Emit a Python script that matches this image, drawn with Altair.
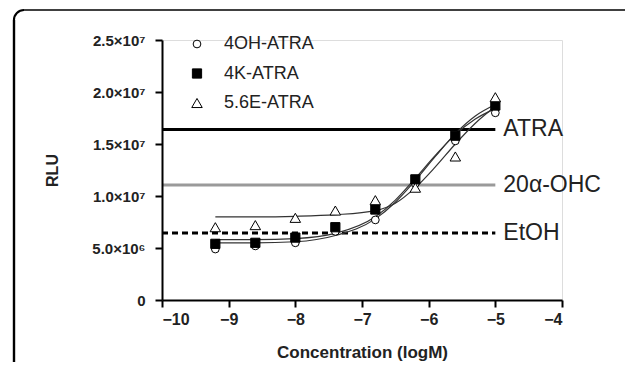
import altair as alt
import pandas as pd

# Data points
conc = [-9.2, -8.6, -8.0, -7.4, -6.8, -6.2, -5.6, -5.0]
oh_atra = [4.9e6, 5.2e6, 5.5e6, 6.6e6, 7.7e6, 11.2e6, 15.3e6, 18.0e6]
k_atra = [5.4e6, 5.5e6, 6.0e6, 7.0e6, 8.7e6, 11.6e6, 15.8e6, 18.7e6]
e_atra = [7.0e6, 7.2e6, 7.9e6, 8.6e6, 9.6e6, 10.8e6, 13.8e6, 19.5e6]

# Fitted curves
curve_x = [-9.2, -8.6, -8.0, -7.4, -6.8, -6.5, -6.2, -5.9, -5.6, -5.3, -5.0]
oh_curve = [5.5e6, 5.5e6, 5.6e6, 6.2e6, 7.8e6, 9.4e6, 11.5e6, 13.8e6, 16.0e6, 17.7e6, 18.8e6]
k_curve = [5.8e6, 5.8e6, 5.9e6, 6.4e6, 8.0e6, 9.6e6, 11.7e6, 13.9e6, 15.9e6, 17.4e6, 18.4e6]
e_curve = [8.0e6, 8.0e6, 8.05e6, 8.2e6, 8.6e6, 9.3e6, 10.8e6, 12.8e6, 15.0e6, 17.0e6, 18.6e6]

series = ["4OH-ATRA", "4K-ATRA", "5.6E-ATRA"]

# Reference lines
ref_names = ["ATRA", "20\u03b1-OHC", "EtOH"]
ref_values = [16.4e6, 11.05e6, 6.45e6]
ref_end = -5.0

y_ticks = [0, 5e6, 1e7, 1.5e7, 2e7, 2.5e7]
y_labels = ["0", "5.0\u00d710\u2076", "1.0\u00d710\u2077", "1.5\u00d710\u2077", "2.0\u00d710\u2077", "2.5\u00d710\u2077"]
x_ticks = [-10, -9, -8, -7, -6, -5, -4]

FONT = "Liberation Sans"

pts = pd.DataFrame(
    [{"x": c, "y": v, "s": series[0]} for c, v in zip(conc, oh_atra)]
    + [{"x": c, "y": v, "s": series[1]} for c, v in zip(conc, k_atra)]
    + [{"x": c, "y": v, "s": series[2]} for c, v in zip(conc, e_atra)]
)
curves = pd.DataFrame(
    [{"x": c, "y": v, "s": series[0]} for c, v in zip(curve_x, oh_curve)]
    + [{"x": c, "y": v, "s": series[1]} for c, v in zip(curve_x, k_curve)]
    + [{"x": c, "y": v, "s": series[2]} for c, v in zip(curve_x, e_curve)]
)
refs = pd.DataFrame({"name": ref_names, "y": ref_values, "x0": [-10] * 3, "x1": [ref_end] * 3})

label_expr = " : ".join(
    f"datum.value == {v} ? '{l}'" for v, l in zip(y_ticks, y_labels)
) + " : ''"

xs = alt.Scale(domain=[-10, -4], nice=False, zero=False)
ys = alt.Scale(domain=[0, 2.5e7], nice=False)

x_axis = alt.Axis(values=x_ticks, title="Concentration (logM)", grid=False,
                  domainColor="black", domainWidth=2, tickColor="black", tickWidth=2,
                  tickSize=7, labelFont=FONT, labelFontSize=16, labelFontWeight="bold",
                  labelColor="#222", labelPadding=4, titleFont=FONT, titleFontSize=17,
                  titleFontWeight="bold", titleColor="#222", titlePadding=17, format="d",
                  zindex=1)
y_axis = alt.Axis(values=y_ticks, labelExpr=label_expr, title="RLU", grid=False,
                  domainColor="black", domainWidth=2, tickColor="black", tickWidth=2,
                  tickSize=7, labelFont=FONT, labelFontSize=15, labelFontWeight="bold",
                  labelColor="#222", labelPadding=10, titleFont=FONT, titleFontSize=16,
                  titleFontWeight="bold", titleColor="#222", titlePadding=31, zindex=1)

# Outer frame (decoration): top edge, left edge, rounded top-left corner
one = pd.DataFrame({"a": [0]})
frame_top = alt.Chart(one).mark_rule(color="black", strokeWidth=1.6).encode(
    x=alt.value(-138), x2=alt.value(480), y=alt.value(-30))
frame_left = alt.Chart(one).mark_rule(color="black", strokeWidth=2.4).encode(
    x=alt.value(-148), y=alt.value(-20), y2=alt.value(400))
frame_corner = alt.Chart(one).mark_arc(color="black").encode(
    x=alt.value(-138), y=alt.value(-20),
    theta=alt.value(4.712), theta2=alt.value(6.2832),
    radius=alt.value(11.1), radius2=alt.value(9.0))

ref_color = alt.Scale(domain=ref_names, range=["black", "#9a9a9a", "black"])
ref_dash = alt.Scale(domain=ref_names, range=[[1, 0], [1, 0], [6, 4]])

ref_lines = alt.Chart(refs).mark_rule(strokeWidth=3).encode(
    x=alt.X("x0:Q", scale=xs, axis=x_axis),
    x2="x1:Q",
    y=alt.Y("y:Q", scale=ys, axis=y_axis),
    color=alt.Color("name:N", scale=ref_color, legend=None),
    strokeDash=alt.StrokeDash("name:N", scale=ref_dash, legend=None),
)
ref_text = alt.Chart(refs).mark_text(
    align="left", baseline="middle", dx=8, font=FONT, fontSize=23, color="#222"
).encode(x=alt.X("x1:Q", scale=xs), y=alt.Y("y:Q", scale=ys), text="name:N")

curve_lines = alt.Chart(curves).mark_line(
    color="#333", strokeWidth=1.2, interpolate="monotone"
).encode(
    x=alt.X("x:Q", scale=xs), y=alt.Y("y:Q", scale=ys), detail="s:N"
)

shape_scale = alt.Scale(domain=series, range=["circle", "square", "triangle-up"])
fill_scale = alt.Scale(domain=series, range=["white", "black", "white"])
stroke_scale = alt.Scale(domain=series, range=["black", "black", "black"])
size_scale = alt.Scale(domain=series, range=[60, 110, 80])

legend = alt.Legend(title=None, orient="none", legendX=26, legendY=-5,
                    labelFont=FONT, labelFontSize=18, labelColor="#222",
                    rowPadding=11.5, symbolStrokeWidth=1, labelOffset=18)

points = alt.Chart(pts).mark_point(
    filled=True, strokeWidth=1, opacity=1
).encode(
    x=alt.X("x:Q", scale=xs),
    y=alt.Y("y:Q", scale=ys),
    shape=alt.Shape("s:N", scale=shape_scale, legend=legend),
    fill=alt.Fill("s:N", scale=fill_scale, legend=legend),
    stroke=alt.Stroke("s:N", scale=stroke_scale, legend=legend),
    size=alt.Size("s:N", scale=size_scale, legend=legend),
)

chart = alt.layer(frame_top, frame_left, frame_corner, ref_lines, curve_lines,
                  points, ref_text).properties(
    width=400, height=260,
    padding={"left": 154, "top": 32, "right": 63, "bottom": 62},
    autosize=alt.AutoSizeParams(type="none"),
).configure_view(stroke=None).configure(background="white")

chart.save("out.html", embed_options={"renderer": "svg", "actions": False})
